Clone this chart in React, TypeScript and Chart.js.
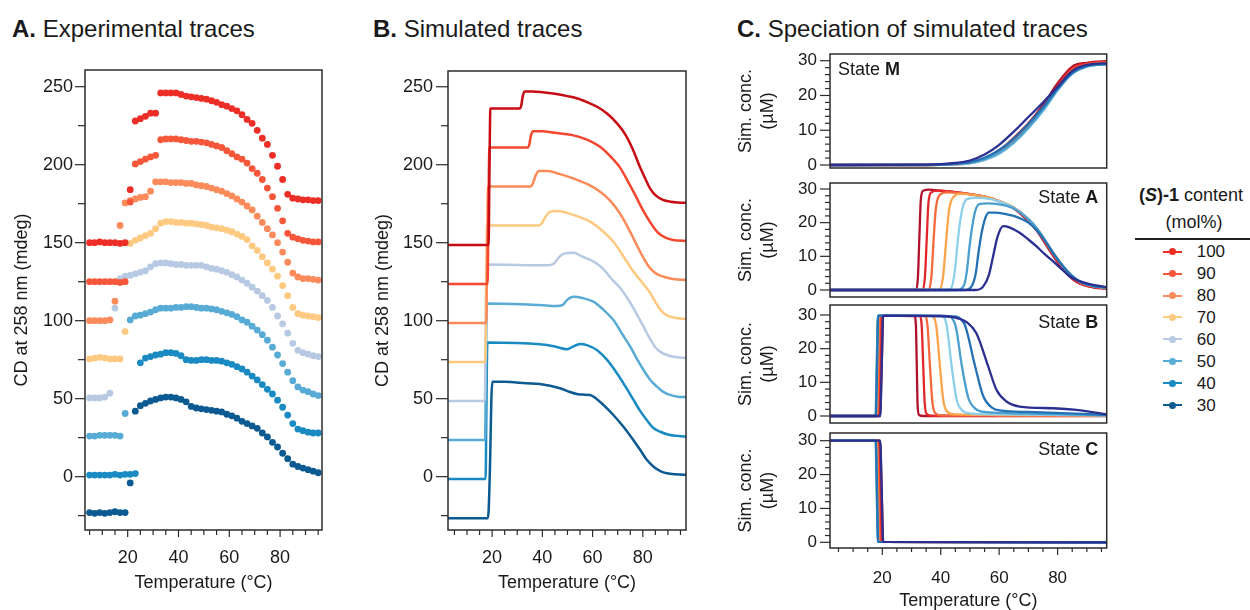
import React, { useEffect, useRef } from 'react';
import { Chart, registerables } from 'chart.js';

Chart.register(...registerables);

const FONT = "'Liberation Sans', Arial, Helvetica, sans-serif";
const INK = '#1a1a1a';

// ---------- legend / colours ----------
const CONTENT = ['100', '90', '80', '70', '60', '50', '40', '30'];
const COLORS_A = ['#ec2e26', '#f6573a', '#fb8b5a', '#fec980', '#b8cae3', '#58abd5', '#1a8bc2', '#0b5a92'];
const COLORS_B = ['#c80c14', '#f5462f', '#fb8a58', '#fec97f', '#b8cae3', '#58abd5', '#1a8bc2', '#0b5a92'];
const COLORS_C = ['#b0112b', '#e3262a', '#f56a3c', '#fca44c', '#8dcfe8', '#4a9fcf', '#2471b4', '#2a2f91'];

// ---------- ticks ----------
const X_MAJOR = [20, 40, 60, 80];
const X_MINOR = [5, 10, 15, 25, 30, 35, 45, 50, 55, 65, 70, 75, 85, 90, 95];
const CD_MAJOR = [0, 50, 100, 150, 200, 250];
const CD_MINOR = [-25, 25, 75, 125, 175, 225];
const C_MAJOR = [0, 10, 20, 30];
const C_MINOR = [2, 4, 6, 8, 12, 14, 16, 18, 22, 24, 26, 28];

// ---------- Panel A: experimental traces ----------
const TEMP_A = [5, 7, 9, 11, 13, 15, 17, 19, 21, 23, 25, 27, 29, 31, 33, 35, 37, 39, 41, 43, 45, 47, 49, 51, 53, 55, 57, 59, 61, 63, 65, 67, 69, 71, 73, 75, 77, 79, 81, 83, 85, 87, 89, 91, 93, 95];
const A100 = [150, 150, 150.5, 150, 150, 150, 149.5, 150, 184, 228, 229.5, 231, 233, 233, 246, 246, 246, 246, 245, 244, 243.5, 243, 242.5, 242, 241, 240, 238.5, 237.5, 236, 234.5, 232, 229, 226.5, 222, 217, 213, 206, 199, 190.5, 181, 178.5, 178, 177.5, 177.5, 177, 177];
const A90 = [125, 125, 125, 125, 125, 125, 124.5, 125, 176, 200.5, 202, 203.5, 205, 206, 216, 216.5, 216.5, 216.5, 216, 215.5, 215, 215, 214.5, 214, 213, 212, 211, 209, 207, 205, 203.5, 201, 197.5, 194.5, 190.5, 185, 179.5, 172, 164, 156, 153.5, 152.5, 151.5, 151, 150.5, 150.5];
const A80 = [100, 100, 100, 100, 100.5, 112.5, 161, 175.5, 177, 178, 179, 179.5, 183, 189, 189, 189, 188.5, 188.5, 188.5, 188, 188, 187, 186.5, 186, 185, 184, 183, 181.5, 180, 178, 176, 173.5, 171, 167, 163, 159, 155, 150, 144, 137.5, 130.5, 128, 127, 127, 126.5, 126];
const A70 = [75.5, 76, 76.5, 76, 75.5, 75.5, 75.5, 93, 149.5, 151.5, 153, 154.5, 156, 159, 162.5, 163.5, 163.5, 163, 163, 162.5, 162.5, 162, 161.5, 161, 160, 159.5, 159, 158, 157, 155.5, 154, 152, 148, 145, 141, 137, 133, 128.5, 122.5, 116, 108.5, 104.5, 103.5, 103, 102.5, 102];
const A60 = [50.5, 50.5, 50.5, 51, 53.5, 108, 127, 128.5, 129, 130, 131, 132, 134.5, 136.5, 137, 137, 136.5, 136, 136, 135.5, 135.5, 135.5, 135.5, 134.5, 133.5, 133, 132, 131, 129.5, 128, 126, 124, 121.5, 119, 116, 113, 108.5, 103, 98, 92, 85.5, 81, 79.5, 78.5, 77.5, 77];
const A50 = [26, 26, 26.5, 26.5, 26.5, 26.5, 26, 40.5, 100.5, 103, 103.5, 104.5, 105.5, 107, 108, 108, 108, 108.5, 108.5, 109, 109, 108.5, 108, 108, 107.5, 107, 106, 105, 104, 102.5, 100.5, 99, 96.5, 94, 91, 87.5, 83, 78, 72.5, 67, 61.5, 57.5, 55.5, 54.5, 53, 52];
const A40 = [1, 1, 1, 1, 1, 1.5, 1, 1.5, 1.5, 2, 73, 76, 77, 78, 78.5, 79.5, 79.5, 79, 77.5, 75, 74.5, 74.5, 75, 75, 74.5, 74.5, 74, 73, 72, 70.5, 69, 67, 64.5, 62, 59, 56, 53, 49, 44.5, 39.5, 34, 30.5, 29.5, 28.5, 28, 28];
const A30 = [-23, -23.5, -23, -23.5, -23, -22.5, -23, -23, -4, 42, 45.5, 47, 48.5, 49.5, 50.5, 51, 51, 50.5, 49.5, 48, 45, 44, 43.5, 43, 42.5, 42, 41.5, 40, 39, 37.5, 35.5, 34, 32.5, 31, 28, 25.5, 22, 19, 15, 11.5, 8, 6.5, 5.5, 4.5, 3.5, 2.5];

// ---------- Panel B: simulated traces ----------
const B100_T = [2, 18.6, 18.9, 19.3, 31, 31.6, 32.2, 32.9, 36, 40, 45, 50, 54, 58, 62, 66, 70, 73, 76, 79, 81, 83, 85, 88, 91, 94, 98];
const B100_V = [148.5, 148.5, 190, 236, 236, 238, 244, 247, 247, 246.5, 245.5, 244, 242.5, 240, 237, 232.5, 226, 219.5, 210, 198, 191, 184.5, 180.5, 177.5, 176.3, 175.8, 175.5];
const B90_T = [2, 18.2, 18.5, 18.9, 34.2, 34.8, 35.5, 36.3, 40, 45, 52, 58, 63, 67, 71, 74, 77, 80, 83, 86, 89, 92, 98];
const B90_V = [123.5, 123.5, 165, 211, 211, 213, 219, 221.5, 221.5, 220.5, 219, 216, 211.5, 205.5, 198, 189.5, 180.5, 171, 163, 156.5, 153.3, 151.8, 151];
const B80_T = [2, 17.7, 18.0, 18.4, 35.3, 36.2, 37.3, 38.6, 42, 47, 52.3, 58, 63, 67, 71, 74, 77.6, 80, 82.9, 85.5, 88.3, 92, 98];
const B80_V = [98.5, 98.5, 140, 186, 186, 188, 193, 196, 196, 194, 191.3, 187.5, 182.7, 177, 168.5, 160, 148.5, 141, 133.6, 130, 128.2, 126.8, 126];
const B70_T = [2, 17.3, 17.6, 18.0, 38.5, 39.8, 41.2, 43, 46, 52, 59, 64, 68.3, 72, 76.3, 80, 82.9, 85, 87, 89, 92.3, 98];
const B70_V = [73.5, 73.5, 115, 161, 161, 162.5, 166.5, 169.8, 170.3, 168, 163.5, 157.5, 150.6, 142, 131.4, 124, 118, 112, 107, 104, 102, 101];
const B60_T = [2, 17.1, 17.4, 17.8, 42.5, 44.5, 46.5, 48.5, 52.3, 56, 60.3, 64, 68, 71, 75, 79, 81, 83, 85, 87, 89.6, 93, 98];
const B60_V = [48.5, 48.5, 90, 136, 135.5, 136.5, 140.5, 143, 143.5, 141, 138, 133.5, 126, 121, 111.5, 100, 94, 88, 83, 80, 78, 76.7, 76];
const B50_T = [2, 17.2, 17.5, 17.9, 39, 45.7, 48, 50, 52.3, 56, 60.3, 64, 68.3, 72, 75, 78, 80.3, 83, 85.6, 88, 90.8, 94, 98];
const B50_V = [23.5, 23.5, 65, 111, 110, 109.4, 110, 113.5, 115.4, 114.5, 112.2, 107.5, 100.4, 91, 83.3, 74.5, 68.4, 62, 57.7, 54.5, 52.4, 51.3, 50.9];
const B40_T = [2, 17.4, 17.7, 18.1, 39, 45, 49.7, 52, 55, 58, 61.7, 65.7, 69.7, 73, 76.3, 79, 81.6, 84, 87, 90, 93, 98];
const B40_V = [-1.5, -1.5, 40, 86, 84.9, 83.5, 81.7, 83.2, 85.1, 84.2, 81.2, 75, 66.3, 58, 49.2, 42, 36.3, 31.5, 28.8, 27, 26.2, 25.6];
const B30_T = [2, 18.2, 18.6, 19.2, 19.7, 20.1, 25, 33.7, 39, 47, 51, 53.7, 56, 59, 61.5, 64.3, 68, 72.3, 76, 79, 81.5, 84.3, 87, 89.6, 93, 98];
const B30_V = [-26.7, -26.7, -22, 10, 50, 60.9, 60.8, 59.9, 59.4, 56.7, 54.3, 53, 52.6, 52.4, 50, 46, 40, 32, 24, 17.1, 11, 6.4, 3.6, 2.2, 1.5, 1.1];

// ---------- Panel C: speciation ----------
// State M
const M_T = [2, 35, 45, 50, 55, 60, 65, 70, 75, 80, 85, 90, 98];
const M100 = [0, 0, 0.3, 0.7, 1.9, 4.2, 7.8, 12, 17.2, 23.5, 28.3, 29.4, 29.9];
const M90 = [0, 0, 0.25, 0.6, 1.7, 3.8, 7.2, 11.4, 16.6, 22.8, 27.8, 29.2, 29.8];
const M80 = [0, 0, 0.2, 0.55, 1.55, 3.5, 6.8, 11, 16.1, 22.3, 27.3, 28.9, 29.6];
const M70 = [0, 0, 0.2, 0.5, 1.45, 3.3, 6.5, 10.7, 15.8, 21.9, 26.8, 28.6, 29.3];
const M60 = [0, 0, 0.2, 0.5, 1.4, 3.2, 6.3, 10.5, 15.5, 21.5, 26.2, 28.3, 29];
const M50 = [0, 0, 0.25, 0.6, 1.6, 3.5, 6.6, 10.8, 15.8, 21.6, 26.3, 28.3, 29];
const M40 = [0, 0.05, 0.35, 0.85, 2.1, 4.3, 7.6, 11.8, 16.6, 22, 26.5, 28.5, 29.1];
const M30 = [0, 0.1, 0.6, 1.3, 3.0, 5.8, 9.6, 13.8, 18, 22.5, 27, 28.8, 29.3];

// State A
const SA100_T = [2, 31.6, 32.2, 32.7, 33.2, 34, 36, 40, 45, 50, 55, 60, 65, 70, 73, 76, 79, 82, 85, 88, 92, 98];
const SA100_V = [0, 0, 4, 16, 27, 29.5, 29.8, 29.5, 29.1, 28.5, 27.7, 26.3, 24.2, 20.4, 17.4, 13.5, 9.5, 6, 3.3, 1.7, 0.8, 0.3];
const SA90_T = [2, 33.8, 34.6, 35.2, 35.8, 36.8, 39, 45, 50, 55, 60, 65, 70, 73, 76, 79, 82, 85, 88, 92, 98];
const SA90_V = [0, 0, 4, 15, 26, 29, 29.5, 29.1, 28.5, 27.7, 26.4, 24.4, 20.8, 17.8, 13.9, 9.9, 6.4, 3.6, 1.9, 0.9, 0.4];
const SA80_T = [2, 35.8, 36.8, 37.5, 38.3, 39.6, 42, 45, 50, 55, 60, 65, 70, 73, 76, 79, 82, 85, 88, 92, 98];
const SA80_V = [0, 0, 4, 14, 24, 28.2, 29, 28.9, 28.4, 27.7, 26.4, 24.5, 21, 18, 14.2, 10.2, 6.7, 3.9, 2.1, 1.1, 0.5];
const SA70_T = [2, 39.4, 40.8, 41.8, 42.8, 44.5, 47, 50, 55, 60, 65, 70, 73, 76, 79, 82, 85, 88, 92, 98];
const SA70_V = [0, 0, 4, 14, 23.5, 27.8, 28.6, 28.4, 27.7, 26.4, 24.5, 21.1, 18.2, 14.4, 10.4, 6.9, 4.1, 2.3, 1.2, 0.6];
const SA60_T = [2, 42.5, 44, 45, 45.7, 46.5, 47.5, 49, 52, 55, 60, 65, 70, 73, 76, 79, 82, 85, 88, 92, 98];
const SA60_V = [0, 0, 1.5, 7, 13.5, 19.5, 24.5, 27, 27.4, 27.3, 26.3, 24.4, 21.1, 18.2, 14.4, 10.4, 6.9, 4.1, 2.3, 1.2, 0.6];
const SA50_T = [2, 45.5, 48, 49, 49.8, 50.8, 52, 53.5, 56, 60, 65, 70, 73, 76, 79, 82, 85, 88, 92, 98];
const SA50_V = [0, 0, 1.5, 6, 12.5, 19, 24, 25.6, 25.7, 25.4, 24.2, 21, 18.2, 14.4, 10.4, 6.9, 4.1, 2.3, 1.2, 0.6];
const SA40_T = [2, 48, 50.5, 52, 52.9, 54, 55.3, 56.5, 58.5, 62, 65, 70, 73, 76, 79, 82, 85, 88, 92, 98];
const SA40_V = [0, 0, 1, 5, 11, 17, 21.5, 23, 23, 22.6, 22, 20, 17.6, 14.2, 10.3, 6.9, 4.1, 2.3, 1.2, 0.6];
const SA30_T = [2, 52, 54.5, 56.5, 57.8, 59.5, 61.4, 63.5, 67, 70, 72.7, 75.5, 78.5, 81.5, 84.2, 87, 90, 98];
const SA30_V = [0, 0, 1, 4.5, 9.5, 16, 19, 18.6, 17, 15, 13, 10.7, 8.5, 6.1, 4, 2.8, 2, 0.7];

// State B
const SB100_T = [2, 19.2, 19.8, 20.3, 31, 31.5, 31.8, 32.1, 32.6, 34, 98];
const SB100_V = [0, 0, 15, 29.8, 29.7, 27, 15, 3, 0.3, 0, 0];
const SB90_T = [2, 18.7, 19.2, 19.6, 32.8, 33.5, 34, 34.5, 35.2, 37, 98];
const SB90_V = [0, 0, 15, 29.8, 29.7, 26.5, 15, 4, 0.6, 0.05, 0.02];
const SB80_T = [2, 18.3, 18.7, 19.1, 34.5, 35.5, 36.3, 37.1, 38, 40, 98];
const SB80_V = [0, 0, 15, 29.8, 29.7, 26.5, 15, 4.5, 1.0, 0.2, 0.05];
const SB70_T = [2, 17.9, 18.3, 18.7, 37, 38.5, 39.7, 40.9, 42.2, 45, 60, 98];
const SB70_V = [0, 0, 15, 29.8, 29.7, 26.5, 15, 4.5, 1.3, 0.5, 0.3, 0.1];
const SB60_T = [2, 17.7, 18.1, 18.5, 40, 42, 43.7, 45.4, 47.2, 50, 60, 98];
const SB60_V = [0, 0, 15, 29.8, 29.8, 27, 15, 5, 1.8, 0.8, 0.5, 0.15];
const SB50_T = [2, 17.7, 18.1, 18.5, 42, 45, 47.2, 49.4, 51.8, 55, 65, 98];
const SB50_V = [0, 0, 15, 29.8, 29.7, 27, 15, 5.5, 2.2, 1.2, 0.8, 0.2];
const SB40_T = [2, 17.8, 18.2, 18.6, 44, 48, 51.7, 54.5, 57.5, 61, 70, 98];
const SB40_V = [0, 0, 15, 29.8, 29.6, 27.5, 15, 6, 2.5, 1.6, 1.2, 0.3];
const SB30_T = [2, 19.3, 19.8, 20.3, 40, 45, 49, 52.2, 56.3, 59.1, 62.5, 67, 78.5, 86.5, 98];
const SB30_V = [0, 0, 15, 29.8, 29.7, 29.2, 27.8, 24.6, 14.6, 7.7, 4.3, 2.8, 2.3, 1.8, 0.3];

// State C
const SC100_T = [2, 19.2, 19.8, 20.3, 98];
const SC90_T = [2, 18.7, 19.2, 19.6, 98];
const SC80_T = [2, 18.3, 18.7, 19.1, 98];
const SC70_T = [2, 17.9, 18.3, 18.7, 98];
const SC60_T = [2, 17.7, 18.1, 18.5, 98];
const SC50_T = [2, 17.7, 18.1, 18.5, 98];
const SC40_T = [2, 17.8, 18.2, 18.6, 98];
const SC30_T = [2, 19.3, 19.8, 20.3, 98];
const SC_V = [30, 30, 15, 0.1, 0];

// ---------- helpers ----------
const pts = (xs: number[], ys: number[]) => xs.map((x, i) => ({ x, y: ys[i] }));

type FrameOpts = {
  yMajor: number[]; yMinor: number[]; yMajorLen: number; yMinorLen: number;
  xMajor?: number[]; xMinor?: number[]; xMajorLen?: number; xMinorLen?: number;
  label?: { plain: string; bold: string; align: 'left' | 'right'; dx: number; dy: number };
};

function framePlugin(o: FrameOpts) {
  return {
    id: 'frame',
    afterDraw(chart: any) {
      const { ctx, chartArea: a, scales } = chart;
      const xs = scales.x;
      const ys = scales.y;
      ctx.save();
      ctx.strokeStyle = '#2b2b2b';
      ctx.lineWidth = 1.2;
      const seg = (x1: number, y1: number, x2: number, y2: number) => {
        ctx.beginPath(); ctx.moveTo(x1, y1); ctx.lineTo(x2, y2); ctx.stroke();
      };
      o.yMajor.forEach(v => { const p = ys.getPixelForValue(v); seg(a.left - o.yMajorLen, p, a.left, p); });
      o.yMinor.forEach(v => { const p = ys.getPixelForValue(v); seg(a.left - o.yMinorLen, p, a.left, p); });
      if (o.xMajor) o.xMajor.forEach(v => { const p = xs.getPixelForValue(v); seg(p, a.bottom, p, a.bottom + (o.xMajorLen || 6)); });
      if (o.xMinor) o.xMinor.forEach(v => { const p = xs.getPixelForValue(v); seg(p, a.bottom, p, a.bottom + (o.xMinorLen || 4)); });
      ctx.lineWidth = 1.5;
      ctx.strokeRect(a.left, a.top, a.right - a.left, a.bottom - a.top);
      if (o.label) {
        const L = o.label;
        ctx.fillStyle = INK;
        ctx.textBaseline = 'middle';
        ctx.textAlign = 'left';
        ctx.font = `18px ${FONT}`;
        const w1 = ctx.measureText(L.plain).width;
        ctx.font = `bold 18px ${FONT}`;
        const w2 = ctx.measureText(L.bold).width;
        const x = L.align === 'left' ? a.left + L.dx : a.right - L.dx - w1 - w2;
        const y = a.top + L.dy;
        ctx.font = `18px ${FONT}`;
        ctx.fillText(L.plain, x, y);
        ctx.font = `bold 18px ${FONT}`;
        ctx.fillText(L.bold, x + w1, y);
      }
      ctx.restore();
    },
  };
}

function xScale(p: any) {
  return {
    type: 'linear', position: 'bottom', display: p.display !== false,
    min: p.min, max: p.max,
    afterBuildTicks: (s: any) => { s.ticks = X_MAJOR.map(v => ({ value: v })); },
    afterFit: (s: any) => { s.height = p.height; },
    grid: { display: false, drawTicks: true, tickLength: p.tickLen },
    border: { display: false },
    ticks: { autoSkip: false, maxRotation: 0, minRotation: 0, padding: p.pad, color: INK, font: { family: FONT, size: p.size } },
    title: { display: true, text: 'Temperature (°C)', color: INK, font: { family: FONT, size: 18, lineHeight: p.titleLH }, padding: { top: 0, bottom: p.titlePad } },
  };
}

function yScale(p: any) {
  return {
    type: 'linear', position: 'left',
    min: p.min, max: p.max,
    afterBuildTicks: (s: any) => { s.ticks = p.ticks.map((v: number) => ({ value: v })); },
    afterFit: (s: any) => { s.width = p.width; },
    grid: { display: false, drawTicks: true, tickLength: p.tickLen },
    border: { display: false },
    ticks: { autoSkip: false, padding: p.pad, color: INK, font: { family: FONT, size: p.size } },
    title: { display: true, text: p.title, color: INK, font: { family: FONT, size: 18, lineHeight: p.titleLH }, padding: { top: p.titlePad, bottom: 0 } },
  };
}

const baseOptions = (padding: any, scales: any) => ({
  responsive: false,
  maintainAspectRatio: false,
  animation: false,
  events: [],
  layout: { padding },
  plugins: { legend: { display: false }, tooltip: { enabled: false } },
  scales,
});

function makeA() {
  const series = [A100, A90, A80, A70, A60, A50, A40, A30];
  return {
    type: 'scatter',
    data: {
      datasets: series.map((vals, i) => ({
        label: CONTENT[i],
        data: pts(TEMP_A, vals),
        backgroundColor: COLORS_A[i],
        borderColor: COLORS_A[i],
        pointRadius: 3.4,
        pointBorderWidth: 0,
        showLine: false,
        order: i,
      })),
    },
    options: baseOptions({ top: 20, right: 18, left: 0, bottom: 0 }, {
      x: xScale({ min: 3.2, max: 96.5, height: 80, tickLen: 7, pad: 10, size: 18, titleLH: 1.2, titlePad: 16 }),
      y: yScale({ min: -34.2, max: 260.7, ticks: CD_MAJOR, width: 85, tickLen: 10, pad: 2, size: 18, title: 'CD at 258 nm (mdeg)', titleLH: 1.2, titlePad: 11.7 }),
    }),
    plugins: [framePlugin({ yMajor: CD_MAJOR, yMinor: CD_MINOR, yMajorLen: 10, yMinorLen: 7, xMajor: X_MAJOR, xMinor: X_MINOR, xMajorLen: 7, xMinorLen: 5 })],
  };
}

function makeB() {
  const series = [[B100_T, B100_V], [B90_T, B90_V], [B80_T, B80_V], [B70_T, B70_V], [B60_T, B60_V], [B50_T, B50_V], [B40_T, B40_V], [B30_T, B30_V]];
  return {
    type: 'line',
    data: {
      datasets: series.map(([t, v], i) => ({
        label: CONTENT[i],
        data: pts(t, v),
        borderColor: COLORS_B[i],
        borderWidth: 2.5,
        pointRadius: 0,
        fill: false,
        cubicInterpolationMode: 'monotone',
        order: i,
      })),
    },
    options: baseOptions({ top: 21, right: 14, left: 0, bottom: 0 }, {
      x: xScale({ min: 2.43, max: 97.2, height: 80, tickLen: 7, pad: 10, size: 18, titleLH: 1.2, titlePad: 16 }),
      y: yScale({ min: -34.2, max: 260.1, ticks: CD_MAJOR, width: 108, tickLen: 12, pad: 3, size: 18, title: 'CD at 258 nm (mdeg)', titleLH: 1.2, titlePad: 32.3 }),
    }),
    plugins: [framePlugin({ yMajor: CD_MAJOR, yMinor: CD_MINOR, yMajorLen: 12, yMinorLen: 7, xMajor: X_MAJOR, xMinor: X_MINOR, xMajorLen: 7, xMinorLen: 5 })],
  };
}

function makeC(series: { x: number; y: number }[][], p: any) {
  return {
    type: 'line',
    data: {
      datasets: series.map((d, i) => ({
        label: CONTENT[i],
        data: d,
        borderColor: COLORS_C[i],
        borderWidth: 2.3,
        pointRadius: 0,
        fill: false,
        cubicInterpolationMode: 'monotone',
        order: 7 - i,
      })),
    },
    options: baseOptions({ top: 16, right: 13.3, left: 0, bottom: p.showX ? 0 : 16 }, {
      x: p.showX
        ? xScale({ min: 2.1, max: 96.8, height: p.xHeight, tickLen: 6, pad: 14, size: 17, titleLH: 1.0, titlePad: 0 })
        : xScale({ min: 2.1, max: 96.8, display: false, height: 0, tickLen: 0, pad: 0, size: 17, titleLH: 1, titlePad: 0 }),
      y: yScale({ min: p.yMin, max: p.yMax, ticks: C_MAJOR, width: 110, tickLen: 10, pad: 3, size: 17, title: ['Sim. conc.', '(µM)'], titleLH: 1.22, titlePad: 15.5 }),
    }),
    plugins: [framePlugin({
      yMajor: C_MAJOR, yMinor: C_MINOR, yMajorLen: 10, yMinorLen: 5,
      xMajor: p.showX ? X_MAJOR : undefined, xMinor: p.showX ? X_MINOR : undefined, xMajorLen: 7, xMinorLen: 4,
      label: p.label,
    })],
  };
}

const stateM = () => [M100, M90, M80, M70, M60, M50, M40, M30].map(v => pts(M_T, v));
const stateA = () => [[SA100_T, SA100_V], [SA90_T, SA90_V], [SA80_T, SA80_V], [SA70_T, SA70_V], [SA60_T, SA60_V], [SA50_T, SA50_V], [SA40_T, SA40_V], [SA30_T, SA30_V]].map(([t, v]) => pts(t, v));
const stateB = () => [[SB100_T, SB100_V], [SB90_T, SB90_V], [SB80_T, SB80_V], [SB70_T, SB70_V], [SB60_T, SB60_V], [SB50_T, SB50_V], [SB40_T, SB40_V], [SB30_T, SB30_V]].map(([t, v]) => pts(t, v));
const stateC = () => [SC100_T, SC90_T, SC80_T, SC70_T, SC60_T, SC50_T, SC40_T, SC30_T].map(t => pts(t, SC_V));

function ChartCanvas({ left, top, width, height, make }: any) {
  const ref = useRef<HTMLCanvasElement | null>(null);
  useEffect(() => {
    if (!ref.current) return;
    const chart = new Chart(ref.current, make());
    return () => chart.destroy();
  }, []);
  return (
    <div style={{ position: 'absolute', left, top, width, height }}>
      <canvas ref={ref} width={width} height={height} style={{ width, height, display: 'block' }} />
    </div>
  );
}

function PanelTitle({ left, letter, text }: { left: number; letter: string; text: string }) {
  return (
    <div style={{ position: 'absolute', left, top: 17, fontSize: 24, lineHeight: '24px', whiteSpace: 'nowrap' }}>
      <b>{letter}</b> {text}
    </div>
  );
}

function Legend() {
  const y0 = 251.7;
  const dy = 21.9;
  return (
    <>
      <div style={{ position: 'absolute', left: 1131, width: 120, top: 195 - 8.8, fontSize: 18, lineHeight: '18px', textAlign: 'center', whiteSpace: 'nowrap' }}>
        <b>(<i>S</i>)-1</b> content
      </div>
      <div style={{ position: 'absolute', left: 1134, width: 120, top: 221.7 - 8.8, fontSize: 18, lineHeight: '18px', textAlign: 'center', whiteSpace: 'nowrap' }}>
        (mol%)
      </div>
      <div style={{ position: 'absolute', left: 1135, top: 238.3, width: 115, height: 1.6, background: '#222' }} />
      {CONTENT.map((c, i) => {
        const cy = y0 + dy * i;
        return (
          <React.Fragment key={c}>
            <div style={{ position: 'absolute', left: 1163, top: cy - 1, width: 19, height: 2, background: COLORS_A[i] }} />
            <div style={{ position: 'absolute', left: 1169, top: cy - 3.5, width: 7, height: 7, borderRadius: '50%', background: COLORS_A[i] }} />
            <div style={{ position: 'absolute', left: 1196.7, top: cy - 8.3, fontSize: 17, lineHeight: '17px', whiteSpace: 'nowrap' }}>{c}</div>
          </React.Fragment>
        );
      })}
    </>
  );
}

export default function App() {
  return (
    <div style={{ position: 'absolute', left: 0, top: 0, width: 1250, height: 610, background: '#fff', fontFamily: FONT, color: INK, overflow: 'hidden' }}>
      <PanelTitle left={12} letter="A." text="Experimental traces" />
      <PanelTitle left={373} letter="B." text="Simulated traces" />
      <PanelTitle left={737} letter="C." text="Speciation of simulated traces" />
      <ChartCanvas left={0} top={50} width={340} height={560} make={makeA} />
      <ChartCanvas left={340} top={50} width={360} height={560} make={makeB} />
      <ChartCanvas left={720} top={38} width={400} height={146}
        make={() => makeC(stateM(), { yMin: -0.86, yMax: 31.93, showX: false, label: { plain: 'State ', bold: 'M', align: 'left', dx: 8, dy: 16 } })} />
      <ChartCanvas left={720} top={167} width={400} height={146}
        make={() => makeC(stateA(), { yMin: -2.08, yMax: 31.78, showX: false, label: { plain: 'State ', bold: 'A', align: 'right', dx: 8.4, dy: 15.5 } })} />
      <ChartCanvas left={720} top={289} width={400} height={150}
        make={() => makeC(stateB(), { yMin: -2.08, yMax: 32.97, showX: false, label: { plain: 'State ', bold: 'B', align: 'right', dx: 8.4, dy: 18 } })} />
      <ChartCanvas left={720} top={417} width={400} height={193}
        make={() => makeC(stateC(), { yMin: -1.68, yMax: 32.27, showX: true, xHeight: 62, label: { plain: 'State ', bold: 'C', align: 'right', dx: 8.4, dy: 17 } })} />
      <Legend />
    </div>
  );
}
